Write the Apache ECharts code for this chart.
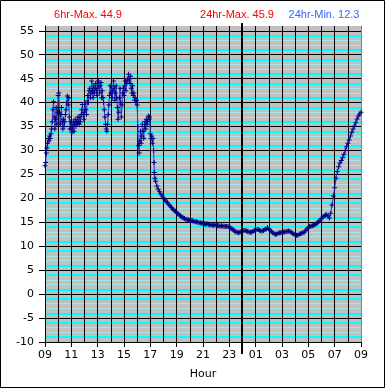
<!DOCTYPE html>
<html><head><meta charset="utf-8">
<script src="https://cdn.jsdelivr.net/npm/echarts@6/dist/echarts.min.js"></script>
<style>html,body{margin:0;padding:0;background:#fff}#c{width:385px;height:388px}</style>
</head><body><div id="c"></div>
<script>
// hours after 09:00
const hoursDay = [
0,0.05,0.1,0.15,0.2,0.25,0.3,0.35,0.4,0.45,
0.5,0.55,0.6,0.65,0.7,0.75,0.8,0.85,0.9,0.95,
1,1.05,1.1,1.15,1.2,1.25,1.3,1.35,1.4,1.45,
1.5,1.55,1.6,1.65,1.7,1.75,1.8,1.85,1.9,1.95,
2,2.05,2.1,2.15,2.2,2.25,2.3,2.35,2.4,2.45,
2.5,2.55,2.6,2.65,2.7,2.75,2.8,2.85,2.9,2.95,
3,3.05,3.1,3.15,3.2,3.25,3.3,3.35,3.4,3.45,
3.5,3.55,3.6,3.65,3.7,3.75,3.8,3.85,3.9,3.95,
4,4.05,4.1,4.15,4.2,4.25,4.3,4.35,4.4,4.45,
4.5,4.55,4.6,4.65,4.7,4.75,4.8,4.85,4.9,4.95,
5,5.05,5.1,5.15,5.2,5.25,5.3,5.35,5.4,5.45,
5.5,5.55,5.6,5.65,5.7,5.75,5.8,5.85,5.9,5.95,
6,6.05,6.1,6.15,6.2,6.25,6.3,6.35,6.4,6.45,
6.5,6.55,6.6,6.65,6.7,6.75,6.8,6.85,6.9,6.95,
7,7.05,7.1,7.15,7.2,7.25,7.3,7.35,7.4,7.45,
7.5,7.55,7.6,7.65,7.7,7.75,7.8,7.85,7.9,7.95,
8,8.05,8.1,8.15,8.2,8.25];
const tempsDay = [
26.8,27.5,29.5,30.5,31.5,32.5,32.0,33.0,32.5,33.5,
34.5,36.0,38.5,40.2,37.0,34.5,36.5,39.0,35.5,38.0,
41.5,42.0,38.0,35.5,37.5,39.0,36.0,34.5,36.5,35.0,
36.0,37.5,38.5,40.0,41.4,39.5,41.0,37.0,34.5,36.0,
34.5,33.8,35.0,36.0,34.0,35.5,36.5,35.0,36.0,35.5,
37.0,36.0,35.5,37.0,36.0,37.5,38.5,39.6,37.5,36.5,
38.0,40.0,38.5,37.5,40.0,41.5,40.0,42.5,43.0,41.0,
42.0,44.5,42.5,41.0,43.5,42.0,43.0,44.0,42.5,41.5,
43.0,44.5,43.5,42.0,43.5,44.2,41.0,42.5,41.0,40.0,
38.5,37.0,35.5,34.5,34.0,35.5,37.5,39.5,41.5,43.5,
42.0,43.5,41.0,42.5,44.5,43.0,40.5,42.0,43.5,41.0,
39.0,36.5,38.0,41.0,43.0,40.0,37.0,39.5,42.0,43.0,
41.5,43.5,44.5,42.5,44.0,45.0,44.5,45.9,45.0,44.0,
45.5,43.0,42.0,43.5,41.5,42.0,40.5,41.0,40.0,40.5,
39.5,35.0,31.0,29.5,32.0,34.0,31.5,33.0,35.5,34.0,
32.5,35.0,36.0,34.5,36.5,35.5,36.0,37.2,36.5,37.0,
33.5,32.5,33.0,31.5,32.5,30.0];
const hoursNight = [
8.28,8.30,8.35,8.40,8.50,8.60,8.70,8.80,8.90,9.00,
9.10,9.20,9.30,9.40,9.50,9.60,9.70,9.80,9.90,10.0,
10.1,10.2,10.3,10.4,10.5,10.6,10.7,10.8,10.9,
11.0,11.1,11.2,11.3,11.4,11.5,11.6,11.7,11.8,11.9,
12.0,12.1,12.2,12.3,12.4,12.5,12.6,12.7,12.8,12.9,
13.0,13.1,13.2,13.3,13.4,13.5,13.6,13.7,13.8,13.9,
14.0,14.1,14.2,14.3,14.4,14.5,14.6,14.7,14.8,14.9,
15.0,15.1,15.2,15.3,15.4,15.5,15.6,15.7,15.8,15.9,
16.0,16.1,16.2,16.3,16.4,16.5,16.6,16.7,16.8,16.9,
17.0,17.1,17.2,17.3,17.4,17.5,17.6,17.7,17.8,17.9,
18.0,18.1,18.2,18.3,18.4,18.5,18.6,18.7,18.8,18.9,
19.0,19.1,19.2,19.3,19.4,19.5,19.6,19.7,19.8,19.9,
20.0,20.1,20.2,20.3,20.4,20.5,20.6,20.7,20.8,20.9,
21.0,21.1,21.2,21.3,21.4,21.5,21.6,21.7,21.8,21.9,
22.0,22.1,22.2,22.3,22.4,22.5,22.6,22.7,22.8,22.9,
23.0,23.1,23.2,23.3,23.4,23.5,23.6,23.7,23.8,23.9,
24.0];
const tempsNight = [
27.5,25.4,24.2,23.6,22.6,21.9,21.4,20.9,20.5,20.1,
19.7,19.4,19.1,18.7,18.4,18.1,17.8,17.5,17.3,17.0,
16.8,16.5,16.3,16.1,15.9,15.8,15.6,15.6,15.5,
15.4,15.4,15.3,15.2,15.1,15.1,15.0,14.9,14.9,14.8,
14.8,14.7,14.6,14.7,14.6,14.5,14.5,14.4,14.4,14.5,
14.4,14.3,14.3,14.2,14.3,14.2,14.2,14.1,14.2,14.1,
14.0,13.8,13.6,13.4,13.2,13.0,12.9,12.8,12.9,13.1,
13.2,13.3,13.3,13.2,13.1,13.0,12.9,13.0,13.1,13.3,
13.4,13.5,13.5,13.3,13.2,13.2,13.3,13.5,13.6,13.9,
13.6,13.3,13.1,12.8,12.6,12.5,12.5,12.7,12.8,12.8,
12.9,13.0,13.0,13.1,13.1,13.2,13.1,12.9,12.7,12.5,
12.4,12.3,12.3,12.5,12.6,12.7,12.8,13.0,13.3,13.6,
13.9,14.1,14.2,14.3,14.4,14.5,14.7,14.9,15.2,15.5,
15.8,16.1,16.3,16.5,16.6,16.3,15.9,16.9,18.6,20.5,
22.2,24.2,25.6,26.6,27.4,27.9,28.5,29.2,30.0,30.8,
31.5,32.2,33.0,33.8,34.5,35.1,35.8,36.6,37.2,37.6,
38.0];
const yTickValues = [-10,-5,0,5,10,15,20,25,30,35,40,45,50,55];
const xTickHours = [0,2,4,6,8,10,12,14,16,18,20,22,24];
const xTickLabels = ['09','11','13','15','17','19','21','23','01','03','05','07','09'];
const headerTexts = ['6hr-Max. 44.9','24hr-Max. 45.9','24hr-Min. 12.3'];
const midnightHour = 15;

const chart = echarts.init(document.getElementById('c'), null, {renderer:'canvas'});
const data = hoursDay.map((h,i)=>[h,tempsDay[i]]).concat(hoursNight.map((h,i)=>[h,tempsNight[i]]));
const plus = 'path://M2,0h1v2h2v1h-2v2h-1v-2h-2v-1h2z';
const lblFont = {color:'#000', fontFamily:'DejaVu Sans', fontSize:11};

chart.setOption({
  animation:false,
  grid:{left:45, top:26, width:316, height:316, show:true, backgroundColor:'#c0c0c0', borderWidth:0},
  xAxis:[
    {type:'value', min:0, max:24, interval:2,
     axisLine:{show:true, onZero:false, lineStyle:{color:'#000', width:1}},
     axisTick:{show:true, length:5, lineStyle:{color:'#000'}},
     axisLabel:Object.assign({margin:8, formatter:v=>{const i=xTickHours.indexOf(v);return i>=0?xTickLabels[i]:'';}}, lblFont),
     splitLine:{show:false},
     name:'Hour', nameLocation:'middle', nameGap:27, nameTextStyle:lblFont},
    {type:'value', min:0, max:24, interval:1,
     axisLine:{show:false}, axisTick:{show:false}, axisLabel:{show:false},
     splitLine:{show:true, showMinLine:false, showMaxLine:false, lineStyle:{color:'#000', width:1}}}
  ],
  yAxis:[
    {type:'value', min:-10, max:56, interval:5,
     axisLine:{show:true, onZero:false, lineStyle:{color:'#000', width:1}},
     axisTick:{show:true, length:6, customValues:yTickValues, lineStyle:{color:'#000'}},
     axisLabel:Object.assign({margin:11, customValues:yTickValues, formatter:v=>yTickValues.indexOf(v)>=0?String(v):''}, lblFont),
     splitLine:{show:true, showMinLine:true, showMaxLine:true, lineStyle:{color:'#000', width:1}}},
    {type:'value', min:-10, max:56, interval:1, position:'right',
     axisLine:{show:true, onZero:false, lineStyle:{color:'#808080', width:1}}, axisTick:{show:false}, axisLabel:{show:false},
     splitLine:{show:true, showMaxLine:false, lineStyle:{color:['transparent','#00ffff','transparent','transparent','#00ffff'], width:2}}},
    {type:'value', min:-10, max:56, interval:1, position:'right',
     axisLine:{show:false}, axisTick:{show:false}, axisLabel:{show:false},
     splitLine:{show:true, showMaxLine:false, lineStyle:{color:['transparent','transparent','#a8e4e4','#a8e4e4','transparent'], width:1}}}
  ],
  series:[{
    type:'line', xAxisIndex:0, yAxisIndex:0, data:data,
    symbol:plus, symbolSize:5, showSymbol:true, showAllSymbol:true,
    itemStyle:{color:'#000080'}, lineStyle:{color:'#3333cc', width:1}, z:5
  }]
});

const xPix = Math.floor(chart.convertToPixel({xAxisIndex:0}, midnightHour));
const yTop = chart.convertToPixel({yAxisIndex:0}, 56);
const yBot = chart.convertToPixel({yAxisIndex:0}, -10);
const headerX = [88, 237, 324];
const headerColors = ['#ff0000','#ff0000','#3366ff'];
chart.setOption({
  graphic:[
    {type:'line', z:100, silent:true, shape:{x1:xPix, y1:yTop-3, x2:xPix, y2:yBot+12}, style:{stroke:'#000', lineWidth:2}},
    {type:'rect', z:100, silent:true, shape:{x:0.5, y:0.5, width:384, height:387}, style:{stroke:'#000', fill:null, lineWidth:1}}
  ].concat(headerTexts.map((t,i)=>({type:'text', z:100, silent:true, x:headerX[i], y:15,
     style:{text:t, fill:headerColors[i], font:'11px "Liberation Sans", Arial', textAlign:'center', textVerticalAlign:'middle'}})))
});
</script></body></html>
